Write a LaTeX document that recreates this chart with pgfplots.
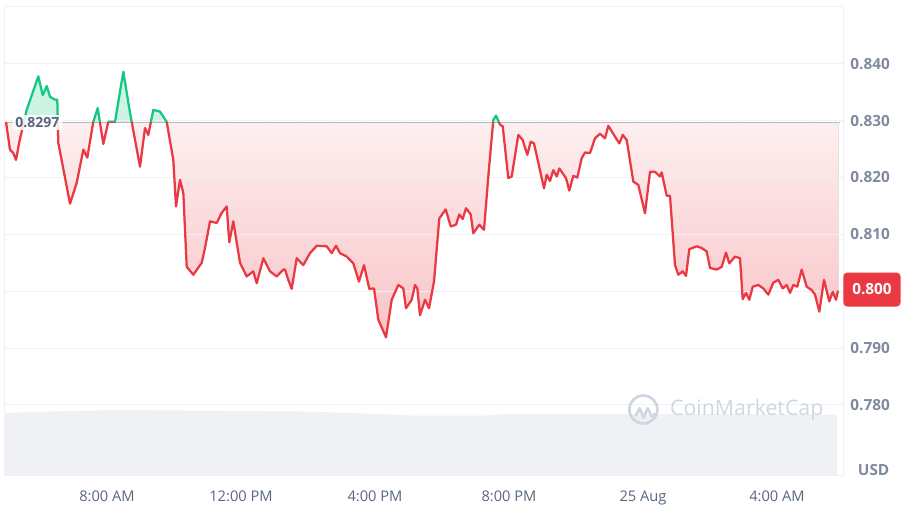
\documentclass[border=0pt]{standalone}
\usepackage{fontspec}
\setmainfont{Open Sans}
\usepackage{pgfplots}
\pgfplotsset{compat=1.18}
\usepackage{pgfplotstable}
\usepgfplotslibrary{fillbetween}

\definecolor{upgreen}{HTML}{16C784}
\definecolor{downred}{HTML}{EA3943}
\definecolor{gridgray}{HTML}{EFF2F5}
\definecolor{labgray}{HTML}{808A9D}
\definecolor{xgray}{HTML}{58667E}
\definecolor{volgray}{HTML}{EFF1F5}
\definecolor{wmgray}{HTML}{CFD6E2}
\definecolor{basegray}{HTML}{A6B0C3}

% price, hours since midnight 24 Aug
\pgfplotstableread{
h v
4.985 0.8298
5.104 0.8249
5.203 0.8243
5.284 0.8231
5.384 0.8263
5.603 0.8319
5.949 0.8378
6.081 0.8345
6.200 0.8361
6.299 0.8342
6.448 0.8337
6.516 0.8337
6.546 0.8261
6.896 0.8154
7.096 0.8191
7.293 0.8249
7.412 0.8235
7.591 0.8298
7.722 0.8322
7.890 0.8259
8.039 0.8298
8.239 0.8298
8.487 0.8386
8.687 0.8314
8.985 0.8219
9.134 0.8287
9.233 0.8275
9.382 0.8319
9.582 0.8316
9.782 0.8298
9.979 0.8231
10.060 0.8149
10.179 0.8196
10.278 0.8173
10.379 0.8043
10.576 0.8029
10.827 0.8050
10.925 0.8076
11.075 0.8123
11.275 0.8120
11.424 0.8138
11.573 0.8149
11.651 0.8086
11.770 0.8123
11.970 0.8050
12.170 0.8026
12.367 0.8035
12.469 0.8014
12.666 0.8058
12.866 0.8035
13.066 0.8026
13.263 0.8038
13.313 0.8038
13.412 0.8020
13.513 0.8004
13.663 0.8058
13.860 0.8046
14.060 0.8067
14.260 0.8080
14.558 0.8079
14.707 0.8067
14.836 0.8080
14.955 0.8067
15.155 0.8061
15.352 0.8049
15.522 0.8017
15.672 0.8046
15.830 0.8004
15.970 0.8005
16.099 0.7950
16.328 0.7919
16.499 0.7985
16.696 0.8011
16.845 0.8005
16.925 0.7970
17.096 0.7985
17.194 0.8011
17.263 0.8005
17.343 0.7958
17.493 0.7985
17.612 0.7970
17.761 0.8017
17.919 0.8128
18.110 0.8144
18.260 0.8114
18.418 0.8117
18.516 0.8135
18.618 0.8127
18.716 0.8146
18.857 0.8135
18.934 0.8102
19.113 0.8117
19.254 0.8108
19.382 0.8202
19.531 0.8301
19.612 0.8309
19.731 0.8293
19.812 0.8290
19.979 0.8199
20.081 0.8202
20.278 0.8275
20.409 0.8266
20.546 0.8240
20.648 0.8263
20.746 0.8260
21.045 0.8181
21.125 0.8205
21.224 0.8194
21.322 0.8213
21.424 0.8202
21.501 0.8216
21.701 0.8199
21.800 0.8177
21.919 0.8203
22.039 0.8200
22.170 0.8234
22.269 0.8244
22.418 0.8243
22.567 0.8269
22.716 0.8277
22.866 0.8269
22.964 0.8291
23.164 0.8272
23.293 0.8260
23.394 0.8275
23.513 0.8266
23.710 0.8193
23.860 0.8187
24.060 0.8137
24.209 0.8210
24.358 0.8210
24.507 0.8202
24.558 0.8209
24.707 0.8168
24.806 0.8168
24.955 0.8046
25.054 0.8029
25.185 0.8035
25.284 0.8027
25.382 0.8074
25.603 0.8079
25.752 0.8076
25.901 0.8070
26.000 0.8041
26.200 0.8038
26.349 0.8043
26.478 0.8068
26.576 0.8049
26.746 0.8061
26.896 0.8058
26.976 0.7986
27.075 0.7997
27.173 0.7985
27.275 0.8008
27.442 0.8011
27.591 0.8005
27.740 0.7994
27.890 0.8015
28.039 0.8020
28.170 0.8005
28.290 0.8011
28.388 0.7997
28.487 0.8011
28.606 0.8008
28.737 0.8038
28.886 0.8008
29.036 0.8002
29.134 0.7994
29.263 0.7964
29.403 0.8020
29.561 0.7982
29.663 0.7999
29.761 0.7985
29.821 0.8001
}\price

% volume band (drawn on the price scale, as in the picture)
\pgfplotstableread{
h v
4.955 0.7786
6.597 0.7789
8.388 0.7791
10.776 0.7790
13.463 0.7789
15.254 0.7786
17.343 0.7781
19.134 0.7781
20.030 0.7784
22.716 0.7784
25.701 0.7784
29.791 0.7783
}\volume

% 0.7675..0.8500 over 351.75pt -> 4263.6pt per unit; open at 0.8297
\pgfplotsset{
  overlay/.style={width=628.5pt, scale only axis, xmin=4.955, xmax=29.970,
    hide axis, clip mode=individual},
}

\begin{document}
\begin{tikzpicture}
\begin{axis}[
    at={(3.75pt,21.75pt)}, anchor=south west,
    width=628.5pt, height=351.75pt, scale only axis,
    xmin=4.955, xmax=29.970,
    ymin=0.7675, ymax=0.8500,
    xtick={8,12,16,20,24,28},
    xticklabels={8:00 AM,12:00 PM,4:00 PM,8:00 PM,25 Aug,4:00 AM},
    ytick={0.78,0.79,0.80,0.81,0.82,0.83,0.84},
    yticklabels={0.780,0.790,,0.810,0.820,0.830,0.840},
    yticklabel pos=right,
    major tick length=0pt,
    ymajorgrids,
    grid style={gridgray, line width=0.75pt},
    axis line style={gridgray, line width=0.75pt},
    xticklabel style={font=\fontsize{11}{13}\selectfont, text=xgray, yshift=-7.5pt},
    yticklabel style={font=\bfseries\fontsize{11.5}{13}\selectfont, text=labgray, xshift=2pt},
    /pgf/number format/assume math mode=true,
    clip mode=individual,
]
% volume
\addplot[draw=none, fill=volgray] table[x=h, y=v] {\volume} \closedcycle;

% watermark
\draw[wmgray, line width=2pt] (axis cs:24.01,0.7792) circle[radius=10.5pt];
\draw[wmgray, line width=2pt, line join=round]
    (axis cs:23.78,0.7780) -- ++(3pt,6pt) -- ++(3pt,-7pt) -- ++(3pt,7pt) -- ++(3pt,-6pt) -- ++(3pt,2pt);
\node[anchor=west, text=wmgray, font=\fontsize{16}{17}\selectfont, inner sep=0pt]
    at (axis cs:24.80,0.7792) {CoinMarketCap};

\node[anchor=base west, text=labgray, font=\bfseries\fontsize{11.5}{13}\selectfont, inner sep=0pt]
    at (axis cs:29.97,0.7675) [xshift=11pt, yshift=0pt] {USD};
\end{axis}

% above the open: green
\begin{axis}[overlay, at={(3.75pt,286.95pt)}, anchor=south west,
    height=86.55pt, ymin=0.8297, ymax=0.8500]
\addplot[name path=base, draw=none] coordinates {(4.985,0.8297) (29.821,0.8297)};
\addplot[name path=price, draw=none] table[x=h, y=v] {\price};
\addplot[fill=upgreen, fill opacity=0.22, draw=none] fill between[of=price and base];
\addplot[upgreen, line width=1.7pt, line join=round] table[x=h, y=v] {\price};
\end{axis}

% below the open: red
\begin{axis}[overlay, at={(3.75pt,21.75pt)}, anchor=south west,
    height=265.2pt, ymin=0.7675, ymax=0.8297]
\addplot[name path=base, draw=none] coordinates {(4.985,0.8297) (29.821,0.8297)};
\addplot[name path=price, draw=none] table[x=h, y=v] {\price};
\addplot[top color=downred!3, bottom color=downred!30, draw=none] fill between[of=price and base];
% open price line
\draw[basegray, line width=0.8pt, dash pattern=on 0.8pt off 2.6pt]
    (axis cs:4.955,0.8297) -- (axis cs:29.97,0.8297);
\addplot[downred, line width=1.7pt, line join=round] table[x=h, y=v] {\price};

\node[anchor=west, fill=white, fill opacity=0.85, text opacity=1, text=xgray,
      font=\bfseries\fontsize{10.5}{12}\selectfont, inner sep=2pt]
    at (axis cs:5.18,0.8297) {0.8297};
\node[anchor=west, fill=downred, rounded corners=3pt, text=white,
      font=\bfseries\fontsize{11.5}{13}\selectfont,
      minimum width=43pt, minimum height=25.5pt, inner sep=0pt]
    at (axis cs:29.97,0.8003) {0.800};
\end{axis}
\pgfresetboundingbox
\path[use as bounding box] (0,0) rectangle (678pt,378.75pt);
\end{tikzpicture}
\end{document}
